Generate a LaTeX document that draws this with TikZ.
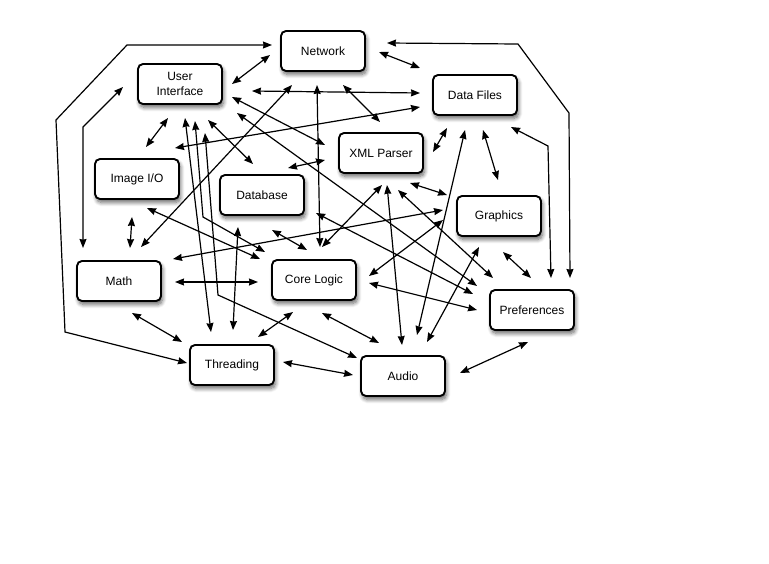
\documentclass[tikz,border=0pt]{standalone}
\usepackage{fontspec}
\setmainfont{Liberation Sans}
\usetikzlibrary{arrows.meta,shadows.blur}
\begin{document}
\begin{tikzpicture}[x=1pt,y=-1pt,
  box/.style={draw=black, line width=1.9pt, rounded corners=5pt, fill=white,
    minimum width=84pt, minimum height=40pt, align=center,
    font=\fontsize{12}{15}\selectfont,
    blur shadow={shadow xshift=1.5pt, shadow yshift=-3.5pt, shadow opacity=60, shadow blur steps=8, shadow blur radius=4pt}},
  link/.style={line width=1.2pt, rounded corners=0pt,
    {Stealth[length=9pt,width=7pt,inset=0.6pt]}-{Stealth[length=9pt,width=7pt,inset=0.6pt]}}]
\useasboundingbox (0,0) rectangle (769,563);
% nodes
\node[box] (net)  at (323,51)  {Network};
\node[box] (ui)   at (180,84)  {User\\Interface};
\node[box] (df)   at (475,95)  {Data Files};
\node[box] (xml)  at (381,153) {XML Parser};
\node[box] (img)  at (137,179) {Image I/O};
\node[box] (db)   at (262,195) {Database};
\node[box] (gfx)  at (499,216) {Graphics};
\node[box] (math) at (119,281) {Math};
\node[box] (core) at (314,280) {Core Logic};
\node[box] (pref) at (532,310) {Preferences};
\node[box] (thr)  at (232,365) {Threading};
\node[box] (aud)  at (403,376) {Audio};
% connectors
\draw[link] ([shift={(52,0)}]ui.center) -- ([shift={(-53,4)}]net.center);
\draw[link] ([shift={(-45,-2)}]thr.center) -- (65,332) -- (56,120) -- (127,45) -- ([shift={(-51,-6)}]net.center);
\draw[link] ([shift={(-36,-33)}]math.center) -- (83,127) -- ([shift={(-57,3)}]ui.center);
\draw[link] ([shift={(64,-8)}]net.center) -- (518,44) -- (569,113) -- ([shift={(38,-32)}]pref.center);
\draw[link] ([shift={(36,32)}]df.center) -- (548,146) -- ([shift={(19,-32)}]pref.center);
\draw[link] ([shift={(56,1)}]net.center) -- ([shift={(-55,-27)}]df.center);
\draw[link] ([shift={(72,7)}]ui.center) -- ([shift={(-55,-2)}]df.center);
\draw[link] ([shift={(38,-31)}]img.center) -- ([shift={(-55,12)}]df.center);
\draw[link] ([shift={(-12,34)}]ui.center) -- ([shift={(9,-32)}]img.center);
\draw[link] ([shift={(28,36)}]ui.center) -- ([shift={(-9,-31)}]db.center);
\draw[link] ([shift={(52,13)}]ui.center) -- ([shift={(-56,-8)}]xml.center);
\draw[link] ([shift={(57,29)}]ui.center) -- ([shift={(-55,-24)}]pref.center);
\draw[link] ([shift={(26,-27)}]db.center) -- ([shift={(-56,7)}]xml.center);
\draw[link] ([shift={(22,-34)}]math.center) -- ([shift={(-31,34)}]net.center);
\draw[link] ([shift={(-6,34)}]net.center) -- ([shift={(6,-33)}]core.center);
\draw[link] ([shift={(20,34)}]net.center) -- ([shift={(-1,-31)}]xml.center);
\draw[link] ([shift={(52,-1)}]xml.center) -- ([shift={(-28,33)}]df.center);
\draw[link] ([shift={(-10,35)}]df.center) -- ([shift={(14,-41)}]aud.center);
\draw[link] ([shift={(8,35)}]df.center) -- ([shift={(-1,-36)}]gfx.center);
\draw[link] ([shift={(29,30)}]xml.center) -- ([shift={(-52,-21)}]gfx.center);
\draw[link] ([shift={(1,32)}]xml.center) -- ([shift={(8,-33)}]core.center);
\draw[link] ([shift={(6,32)}]xml.center) -- ([shift={(-1,-31)}]aud.center);
\draw[link] ([shift={(17,37)}]xml.center) -- ([shift={(-39,-32)}]pref.center);
\draw[link] ([shift={(54,-22)}]math.center) -- ([shift={(-56,-6)}]gfx.center);
\draw[link] ([shift={(54,18)}]db.center) -- ([shift={(-59,-16)}]pref.center);
\draw[link] ([shift={(55,3)}]core.center) -- ([shift={(-55,0)}]pref.center);
\draw[link] ([shift={(-56,4)}]gfx.center) -- ([shift={(55,-4)}]core.center);
\draw[link] ([shift={(-20,31)}]gfx.center) -- ([shift={(24,-34)}]aud.center);
\draw[link] ([shift={(4,36)}]gfx.center) -- ([shift={(-1,-32)}]pref.center);
\draw[link] ([shift={(8,33)}]core.center) -- ([shift={(-24,-33)}]aud.center);
\draw[link] ([shift={(25,49)}]ui.center) -- (218,295) -- ([shift={(-46,-18)}]aud.center);
\draw[link] ([shift={(5,34)}]ui.center) -- ([shift={(-21,-33)}]thr.center);
\draw[link] ([shift={(15,37)}]ui.center) -- (203,217) -- ([shift={(-49,-28)}]core.center);
\draw[link] ([shift={(-24,32)}]db.center) -- ([shift={(1,-35)}]thr.center);
\draw[link] ([shift={(10,29)}]img.center) -- ([shift={(-54,-21)}]core.center);
\draw[link] ([shift={(-5,38)}]img.center) -- ([shift={(11,-33)}]math.center);
\draw[link] ([shift={(56,1)}]math.center) -- ([shift={(-56,2)}]core.center);
\draw[link] ([shift={(13,32)}]math.center) -- ([shift={(-50,-23)}]thr.center);
\draw[link] ([shift={(26,-28)}]thr.center) -- ([shift={(-21,32)}]core.center);
\draw[link] ([shift={(51,-3)}]thr.center) -- ([shift={(-50,-1)}]aud.center);
\draw[link] ([shift={(57,-3)}]aud.center) -- ([shift={(-4,32)}]pref.center);
\draw[link] ([shift={(10,35)}]db.center) -- ([shift={(-7,-30)}]core.center);
\end{tikzpicture}
\end{document}
